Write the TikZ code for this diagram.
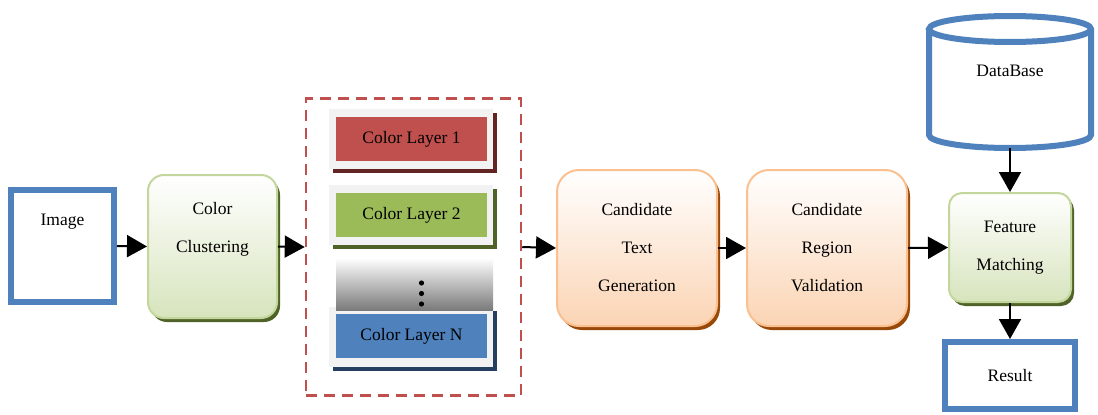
\documentclass[tikz,border=0pt]{standalone}
\usepackage{fontspec}
\setmainfont{Liberation Serif}
\usetikzlibrary{arrows.meta,shadows}
\definecolor{myblue}{HTML}{4F81BD}
\definecolor{myred}{HTML}{C0504D}
\definecolor{mygreen}{HTML}{9BBB59}
\definecolor{gborder}{HTML}{C3D69B}
\definecolor{gbottom}{HTML}{D7E4BD}
\definecolor{gshadow}{HTML}{4F6228}
\definecolor{oborder}{HTML}{FAC090}
\definecolor{obottom}{HTML}{FBD4B4}
\definecolor{oshadow}{HTML}{984807}
\definecolor{rshadow}{HTML}{632423}
\definecolor{bshadow}{HTML}{243F60}
\definecolor{frame}{HTML}{F2F2F2}
\tikzset{
  txt/.style={font=\fontsize{17.5}{38}\selectfont, align=center, inner sep=0pt},
  bluebox/.style={draw=myblue, line width=6pt, fill=white, inner sep=0pt},
  greenbox/.style={draw=gborder, line width=2pt, rounded corners=16pt, top color=white, bottom color=gbottom,
    general shadow={fill=gshadow, shadow xshift=3pt, shadow yshift=-4pt}, txt},
  orangebox/.style={draw=oborder, line width=2pt, rounded corners=22pt, top color=white, bottom color=obottom,
    general shadow={fill=oshadow, shadow xshift=3pt, shadow yshift=-4pt}, txt},
  layerframe/.style={fill=frame, minimum width=164pt, minimum height=60pt, inner sep=0pt},
  layerinner/.style={minimum width=151pt, minimum height=44pt, inner sep=0pt, txt},
  arr/.style={line width=2pt, -{Triangle[length=20pt,width=22pt]}},
}
\begin{document}
\begin{tikzpicture}[x=1pt,y=-1pt]
\useasboundingbox (0,0) rectangle (1098,415);

% Image
\node[bluebox, minimum width=103pt, minimum height=112pt] (img) at (62.5,246) {};
\node[txt] (imgt) at (62.5,222) {Image};

% Color clustering
\node[greenbox, minimum width=129pt, minimum height=143pt] (cc) at (212.5,246.5) {Color\\Clustering\\ };

% Color layers
\node[draw=myred, line width=2.5pt, dash pattern=on 11pt off 7pt, minimum width=215pt, minimum height=297pt, inner sep=0pt] (layers) at (413.5,247) {};

\node[fill=rshadow, minimum width=164pt, minimum height=60pt, inner sep=0pt] (l1s) at (415,143) {};
\node[layerframe] (l1f) at (411,139) {};
\node[layerinner, fill=myred] (l1) at (411.5,139) {Color Layer 1};

\node[fill=gshadow, minimum width=164pt, minimum height=60pt, inner sep=0pt] (l2s) at (415,219) {};
\node[layerframe] (l2f) at (411,215) {};
\node[layerinner, fill=mygreen] (l2) at (411.5,215) {Color Layer 2};

\node[fill=bshadow, minimum width=164pt, minimum height=60pt, inner sep=0pt] (lns) at (415,340.5) {};
\node[layerframe] (lnf) at (411,336.5) {};
\node[minimum width=157pt, minimum height=52pt, inner sep=0pt, top color=white, bottom color=black!52] (grad) at (414.5,284) {};
\node[layerinner, fill=myblue] (ln) at (411.5,336) {Color Layer N};
\foreach \yy [count=\i] in {283,293.5,304}
  \fill (421.5,\yy) circle (2.6pt) coordinate (dot\i);

% Candidate boxes
\node[orangebox, minimum width=160pt, minimum height=156pt] (ctg) at (637,248) {Candidate\\Text\\Generation};
\node[orangebox, minimum width=160pt, minimum height=156pt] (crv) at (827,248) {Candidate\\Region\\Validation};

% Feature matching
\node[greenbox, rounded corners=13pt, minimum width=122pt, minimum height=109pt] (fm) at (1010,247.5) {Feature\\Matching};

% DataBase cylinder
\node[minimum width=162pt, minimum height=132pt, inner sep=0pt] (db) at (1010,82) {};
\draw[myblue, line width=6pt, fill=white]
  (929,29) -- (929,135) arc[start angle=180, end angle=360, x radius=81pt, y radius=13pt] -- (1091,29)
  arc[start angle=0, end angle=360, x radius=81pt, y radius=13pt];
\node[txt] (dbt) at (1010,71) {DataBase};

% Result
\node[bluebox, minimum width=130pt, minimum height=67pt, txt] (res) at (1010,375.5) {Result};

% Arrows
\draw[arr] (img.east) -- (cc.west);
\draw[arr] (cc.east) -- (layers.west);
\draw[arr] (layers.east) -- (ctg.west);
\draw[arr] (ctg.east) -- (crv.west);
\draw[arr] (crv.east) -- (fm.west);
\draw[arr] (db.south) -- (fm.north);
\draw[arr] (fm.south) -- (res.north);
\end{tikzpicture}
\end{document}
